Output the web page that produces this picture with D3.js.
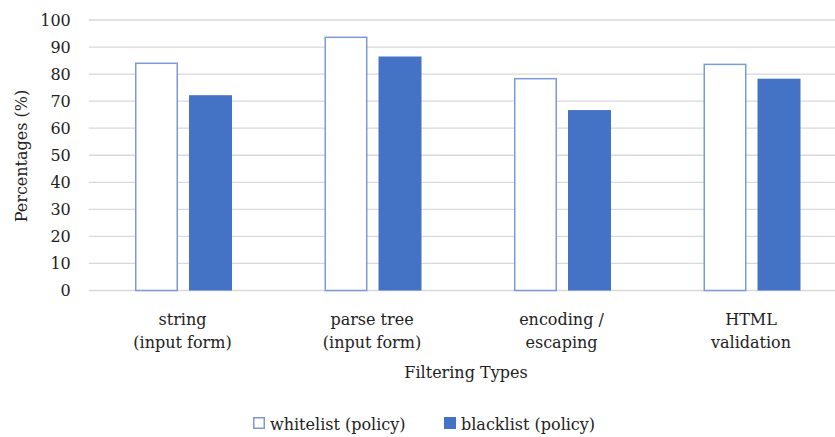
<!DOCTYPE html>
<html>
<head>
<meta charset="utf-8">
<script src="https://cdn.jsdelivr.net/npm/d3@7"></script>
<style>
  html, body { margin: 0; padding: 0; background: #fff; }
  svg { display: block; }
</style>
</head>
<body>
<svg id="chart" width="835" height="437"></svg>
<script>
// Filtering types and their two-line labels
const categories = ["string", "parse tree", "encoding", "HTML"];
const categoryLabels = [
  ["string", "(input form)"],
  ["parse tree", "(input form)"],
  ["encoding /", "escaping"],
  ["HTML", "validation"]
];
const seriesNames = ["whitelist (policy)", "blacklist (policy)"];
const whitelistValues = [84.0, 93.6, 78.3, 83.6];
const blacklistValues = [72.2, 86.5, 66.7, 78.3];
const yTicks = [0, 10, 20, 30, 40, 50, 60, 70, 80, 90, 100];

const blue = "#4472C4";
const serif = "'DejaVu Serif', serif";
const fontSize = 16;
const svg = d3.select("#chart");

const plot = { left: 88.75, right: 846.75, top: 20, bottom: 290.5 };

const x = d3.scaleBand().domain(categories).range([plot.left, plot.right]).paddingInner(0).paddingOuter(0);
const inner = d3.scaleBand().domain(seriesNames).range([0, x.bandwidth()]).paddingInner(0.204).paddingOuter(0.856);
const y = d3.scaleLinear().domain([0, 100]).range([plot.bottom, plot.top]);

// gridlines
svg.append("g")
  .selectAll("line")
  .data(yTicks)
  .join("line")
  .attr("x1", plot.left).attr("x2", 835)
  .attr("y1", d => y(d)).attr("y2", d => y(d))
  .attr("stroke", "#d9d9d9").attr("stroke-width", 1.3);

// y axis tick labels
const yAxis = svg.append("g")
  .attr("transform", `translate(${plot.left},0)`)
  .call(d3.axisLeft(y).tickValues(yTicks).tickSize(0).tickPadding(18));
yAxis.attr("font-family", serif);
yAxis.select(".domain").remove();
yAxis.selectAll("text")
  .attr("font-family", serif)
  .attr("font-size", fontSize).attr("fill", "#222");

// bars
const rows = categories.map((c, i) => ({ cat: c, vals: [whitelistValues[i], blacklistValues[i]] }));
const groups = svg.append("g").selectAll("g")
  .data(rows).join("g")
  .attr("transform", d => `translate(${x(d.cat)},0)`);

groups.append("rect")
  .attr("x", inner(seriesNames[0]) + 0.75)
  .attr("y", d => y(d.vals[0]))
  .attr("width", inner.bandwidth() - 1.5)
  .attr("height", d => y(0) - y(d.vals[0]))
  .attr("fill", "#fff").attr("stroke", "#7a9bd8").attr("stroke-width", 1.5);

groups.append("rect")
  .attr("x", inner(seriesNames[1]))
  .attr("y", d => y(d.vals[1]))
  .attr("width", inner.bandwidth())
  .attr("height", d => y(0) - y(d.vals[1]))
  .attr("fill", blue);

// category labels
const labels = svg.append("g").selectAll("text")
  .data(categories).join("text")
  .attr("y", 325)
  .attr("text-anchor", "middle")
  .attr("font-family", serif)
  .attr("font-size", fontSize).attr("fill", "#222");
labels.each(function(d, i) {
  const t = d3.select(this);
  categoryLabels[i].forEach((line, j) => {
    t.append("tspan").attr("x", x(d) + x.bandwidth() / 2 - 1).attr("dy", j === 0 ? 0 : 23).text(line);
  });
});

// axis titles
svg.append("text")
  .attr("x", 466).attr("y", 378)
  .attr("text-anchor", "middle")
  .attr("font-family", serif)
  .attr("font-size", fontSize).attr("fill", "#222")
  .text("Filtering Types");

svg.append("text")
  .attr("transform", "translate(27,156) rotate(-90)")
  .attr("text-anchor", "middle")
  .attr("font-family", serif)
  .attr("font-size", fontSize).attr("fill", "#222")
  .text("Percentages (%)");

// legend
const legendItems = [
  { name: seriesNames[0], x: 253, fill: "#fff", stroke: "#7a9bd8" },
  { name: seriesNames[1], x: 444, fill: blue, stroke: blue }
];
const legend = svg.append("g").selectAll("g").data(legendItems).join("g")
  .attr("transform", d => `translate(${d.x},417)`);
legend.append("rect")
  .attr("x", 0.75).attr("y", 0.75).attr("width", 10.5).attr("height", 10.5)
  .attr("fill", d => d.fill).attr("stroke", d => d.stroke).attr("stroke-width", 1.5);
legend.append("text")
  .attr("x", 17).attr("y", 12.5)
  .attr("font-family", serif)
  .attr("font-size", fontSize).attr("fill", "#222")
  .text(d => d.name);
</script>
</body>
</html>
